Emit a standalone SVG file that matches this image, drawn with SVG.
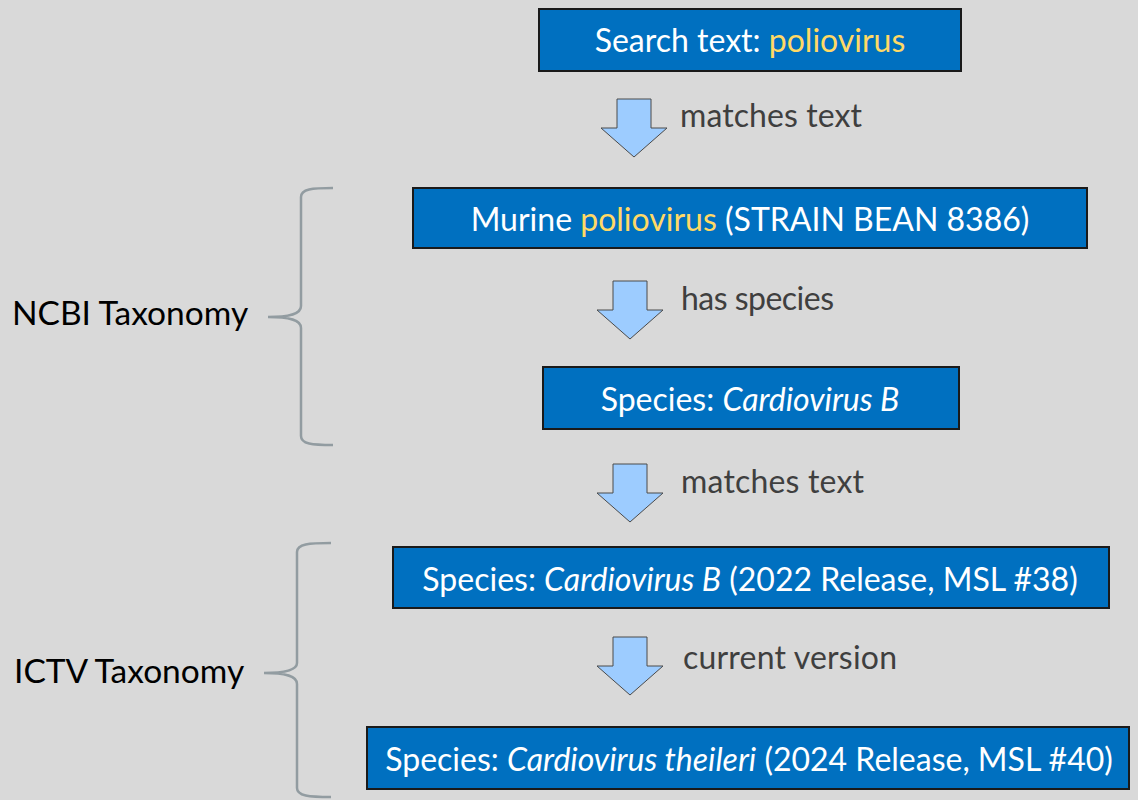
<svg xmlns="http://www.w3.org/2000/svg" width="1138" height="800" viewBox="0 0 1138 800">
<style>
.box{fill:#0070C0;stroke:#1a1a1a;stroke-width:2}
.bt{font-family:Lato,"Open Sans",sans-serif;font-size:32px;fill:#ffffff;text-anchor:middle}
.hl{fill:#FFD966}
.it{font-style:italic}
.lbl{font-family:Lato,"Open Sans",sans-serif;font-size:32px;fill:#3F3F3F}
.side{font-family:Lato,"Open Sans",sans-serif;font-size:33.5px;fill:#000000}
.arr{fill:#9DCCFF;stroke:#4a4a4a;stroke-width:1}
.brace{fill:none;stroke:#929CA1;stroke-width:2.5}
</style>
<defs>
<path id="arrow" d="M-17,0 H17 V29 H33 L0,58 L-33,29 H-17 Z" class="arr"/>
</defs>
<rect width="1138" height="800" fill="#D9D9D9"/>

<g id="connectors">
<use href="#arrow" x="634" y="99"/>
<use href="#arrow" x="630" y="281"/>
<use href="#arrow" x="630" y="464"/>
<use href="#arrow" x="630" y="637"/>
<text class="lbl" x="680" y="127" textLength="182">matches text</text>
<text class="lbl" x="681" y="310" textLength="153">has species</text>
<text class="lbl" x="681" y="493" textLength="183">matches text</text>
<text class="lbl" x="683" y="669" textLength="214">current version</text>
</g>

<g id="n1">
<rect class="box" x="539" y="9" width="422" height="62"/>
<text class="bt" x="750" y="52">Search text: <tspan class="hl">poliovirus</tspan></text>
</g>
<g id="n2">
<rect class="box" x="413" y="188" width="674" height="60"/>
<text class="bt" x="750" y="231">Murine <tspan class="hl">poliovirus</tspan> (STRAIN BEAN 8386)</text>
</g>
<g id="n3">
<rect class="box" x="543" y="367" width="416" height="62"/>
<text class="bt" x="750" y="411">Species: <tspan class="it">Cardiovirus B</tspan></text>
</g>
<g id="n4">
<rect class="box" x="393" y="547" width="716" height="61"/>
<text class="bt" x="750" y="591">Species: <tspan class="it">Cardiovirus B</tspan> (2022 Release, MSL #38)</text>
</g>
<g id="n5">
<rect class="box" x="367" y="727" width="762" height="62"/>
<text class="bt" x="749" y="771">Species: <tspan class="it">Cardiovirus theileri</tspan> (2024 Release, MSL #40)</text>
</g>

<g id="ncbi">
<path class="brace" d="M333,188 C312,188 301,189 301,197 V306 C301,314 290,317 268,317 C290,317 301,320 301,328 V436 C301,444 312,445 333,445"/>
<text class="side" x="12" y="325">NCBI Taxonomy</text>
</g>
<g id="ictv">
<path class="brace" d="M331,543 C309,543 297,544 297,552 V663 C297,670 286,673 264,673 C286,673 297,676 297,684 V788 C297,796 309,797 331,797"/>
<text class="side" x="14" y="683">ICTV Taxonomy</text>
</g>
</svg>
